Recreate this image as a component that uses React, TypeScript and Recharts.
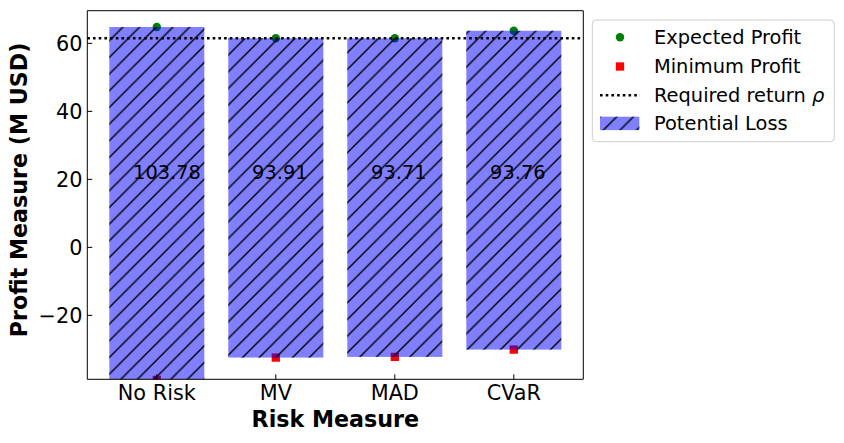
import React from 'react';
import { ComposedChart, Bar, Scatter, XAxis, YAxis, ReferenceLine } from 'recharts';

const categories = ['No Risk', 'MV', 'MAD', 'CVaR'];
const expectedProfit = [64.8, 61.5, 61.5, 63.7];
const minimumProfit = [-38.98, -32.41, -32.21, -30.06];
const potentialLoss = [103.78, 93.91, 93.71, 93.76];
const requiredReturn = 61.5;
const yTicks = [-20, 0, 20, 40, 60];
const yDomain: [number, number] = [-38.8, 69.6];

const LABEL_Y = 20;
const FONT = '"DejaVu Sans", sans-serif';
const W = 844;
const H = 443;
const PLOT_LEFT = 87.3;
const PLOT_RIGHT = 583.3;
const PLOT_TOP = 10.7;
const PLOT_BOTTOM = 379.3;
const HATCH = 16.67;
const DOTS = '2.6 3.1';

const data = categories.map((name, i) => ({
  name,
  expected: expectedProfit[i],
  minimum: minimumProfit[i],
  loss: [minimumProfit[i], expectedProfit[i]],
  labelY: LABEL_Y,
  lossText: potentialLoss[i].toFixed(2),
}));

const minus = (v: number) => (v < 0 ? '\u2212' + Math.abs(v) : String(v));

const HatchDefs = ({ id }: { id: string }) => (
  <defs>
    <pattern id={id} patternUnits="userSpaceOnUse" width={HATCH} height={HATCH}>
      <path
        d={`M0,${HATCH} L${HATCH},0 M-3,3 L3,-3 M${HATCH - 3},${HATCH + 3} L${HATCH + 3},${HATCH - 3}`}
        stroke="#000"
        strokeWidth={1.39}
      />
    </pattern>
  </defs>
);

const LossBar = (p: any) => (
  <g>
    <rect x={p.x} y={p.y} width={p.width} height={p.height} fill="#0000ff" fillOpacity={0.5} />
    <rect x={p.x} y={p.y} width={p.width} height={p.height} fill="url(#hatch)" />
  </g>
);

const GreenDot = (p: any) => <circle cx={p.cx} cy={p.cy} r={4.2} fill="green" />;
const RedSquare = (p: any) => (
  <rect x={p.cx - 4.15} y={p.cy - 4.15} width={8.3} height={8.3} fill="red" />
);
const LossText = (p: any) => (
  <text x={p.cx - 23.75} y={p.cy} fontFamily={FONT} fontSize={19.4} fill="#000">
    {p.payload.lossText}
  </text>
);

const xTitle = (p: any) => {
  const vb = p.viewBox;
  return (
    <text x={vb.x + vb.width / 2} y={426.7} textAnchor="middle" fontFamily={FONT} fontSize={22.2} fontWeight="bold" fill="#000">
      Risk Measure
    </text>
  );
};

const yTitle = () => (
  <text
    x={26.9}
    y={190}
    transform="rotate(-90 26.9 190)"
    textAnchor="middle"
    fontFamily={FONT}
    fontSize={22.2}
    fontWeight="bold"
    fill="#000"
  >
    Profit Measure (M USD)
  </text>
);

const DottedRef = (p: any) => (
  <line x1={PLOT_LEFT} x2={PLOT_RIGHT} y1={p.y1} y2={p.y2} stroke="#000" strokeWidth={2.6} strokeDasharray={DOTS} />
);

const legendRows = [
  { y: 37.3, label: 'Expected Profit' },
  { y: 66.5, label: 'Minimum Profit' },
  { y: 95.2, label: 'Required return ' },
  { y: 123.4, label: 'Potential Loss' },
];

// top/right spines + legend, drawn over the chart
const Overlay = () => (
  <svg width={W} height={H} style={{ position: 'absolute', left: 0, top: 0, pointerEvents: 'none' }}>
    <HatchDefs id="hatchLegend" />
    <line x1={PLOT_LEFT} x2={PLOT_RIGHT} y1={PLOT_TOP} y2={PLOT_TOP} stroke="#000" />
    <line x1={PLOT_RIGHT} x2={PLOT_RIGHT} y1={PLOT_TOP} y2={PLOT_BOTTOM} stroke="#000" />
    <rect x={592.3} y={20} width={242} height={121.7} rx={4} fill="#fff" fillOpacity={0.8} stroke="#cccccc" />
    <circle cx={620} cy={legendRows[0].y} r={4.2} fill="green" />
    <rect x={620 - 4.15} y={legendRows[1].y - 4.15} width={8.3} height={8.3} fill="red" />
    <line x1={600} x2={640} y1={legendRows[2].y} y2={legendRows[2].y} stroke="#000" strokeWidth={2.6} strokeDasharray={DOTS} />
    <rect x={600} y={legendRows[3].y - 6.7} width={39.3} height={13.4} fill="#0000ff" fillOpacity={0.5} />
    <rect x={600} y={legendRows[3].y - 6.7} width={39.3} height={13.4} fill="url(#hatchLegend)" />
    {legendRows.map((r, i) => (
      <text key={r.label} x={654} y={r.y} dy="0.36em" fontFamily={FONT} fontSize={19.4} fill="#000">
        {r.label}
        {i === 2 && <tspan fontStyle="italic">ρ</tspan>}
      </text>
    ))}
  </svg>
);

export default function App() {
  return (
    <div style={{ position: 'absolute', left: 0, top: 0, width: W, height: H, background: '#fff' }}>
      <ComposedChart width={W} height={H} data={data} margin={{ top: PLOT_TOP, right: W - PLOT_RIGHT, bottom: 0, left: 0 }}>
        <HatchDefs id="hatch" />
        <XAxis
          dataKey="name"
          interval={0}
          padding={{ left: 10, right: 10 }}
          height={H - PLOT_BOTTOM}
          tickSize={-5}
          tickMargin={10.9}
          tick={{ fill: '#000', fontSize: 20.8, fontFamily: FONT }}
          tickLine={{ stroke: '#000' }}
          axisLine={{ stroke: '#000' }}
          label={xTitle}
        />
        <YAxis
          width={PLOT_LEFT}
          domain={yDomain}
          ticks={yTicks}
          allowDataOverflow
          tickSize={-5}
          tickMargin={9.9}
          tickFormatter={minus}
          tick={{ fill: '#000', fontSize: 20.8, fontFamily: FONT }}
          tickLine={{ stroke: '#000' }}
          axisLine={{ stroke: '#000' }}
          label={yTitle}
        />
        <Scatter dataKey="expected" shape={GreenDot} isAnimationActive={false} zIndex={250} />
        <Scatter dataKey="minimum" shape={RedSquare} isAnimationActive={false} zIndex={250} />
        <Bar dataKey="loss" barSize={95} shape={LossBar} isAnimationActive={false} zIndex={300} />
        <Scatter dataKey="labelY" shape={LossText} isAnimationActive={false} zIndex={350} />
        <ReferenceLine y={requiredReturn} shape={DottedRef} />
      </ComposedChart>
      <Overlay />
    </div>
  );
}
